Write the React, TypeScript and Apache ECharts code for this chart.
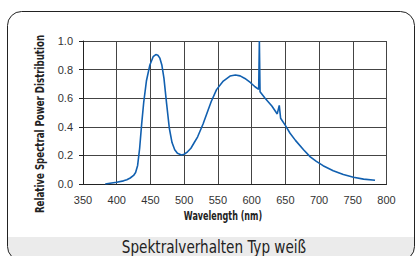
import React, { useEffect, useRef } from "react";
import * as echarts from "echarts";

const wavelengths = [383, 390, 400, 410, 415, 420, 425, 428, 431, 434, 437, 440, 444, 449, 454, 458, 461, 464, 467, 470, 474, 478, 482, 486, 490, 496, 500, 505, 510, 515, 520, 528, 535, 540, 548, 558, 568, 576, 583, 590, 598, 605, 610.5, 611.5, 612.5, 620, 630, 638, 641, 643, 650, 657, 665, 677, 687, 696, 706, 721, 736, 751, 766, 783];
const intensity = [0, 0.005, 0.012, 0.022, 0.03, 0.042, 0.06, 0.08, 0.13, 0.25, 0.42, 0.57, 0.72, 0.83, 0.89, 0.905, 0.9, 0.88, 0.83, 0.74, 0.56, 0.39, 0.29, 0.24, 0.215, 0.203, 0.208, 0.225, 0.25, 0.29, 0.33, 0.42, 0.51, 0.575, 0.66, 0.72, 0.755, 0.762, 0.756, 0.738, 0.71, 0.68, 0.662, 1.0, 0.645, 0.6, 0.545, 0.49, 0.55, 0.46, 0.41, 0.355, 0.305, 0.24, 0.19, 0.158, 0.128, 0.093, 0.066, 0.047, 0.034, 0.026];

const xTitle = "Wavelength (nm)";
const yTitle = "Relative Spectral Power Distribution";
const chartTitle = "Spektralverhalten Typ weiß";

const narrow = '"DejaVu Sans Condensed", sans-serif';

export default function App() {
  const ref = useRef<HTMLDivElement>(null);
  useEffect(() => {
    if (!ref.current) return;
    const chart = echarts.init(ref.current, null, { renderer: "svg" });
    const data = wavelengths.map((w, i) => [w, intensity[i]]);
    chart.setOption({
      animation: false,
      backgroundColor: "#ffffff",
      grid: { left: 83, top: 41, width: 303.5, height: 143, containLabel: false },
      xAxis: {
        type: "value",
        min: 350,
        max: 800,
        interval: 50,
        axisLine: { show: true, onZero: false, lineStyle: { color: "#222", width: 1 } },
        axisTick: { show: false },
        axisLabel: { color: "#333", fontSize: 11, fontFamily: '"Liberation Sans", Arial, sans-serif', margin: 10 },
        splitLine: { show: true, lineStyle: { color: "#444", width: 1 } },
      },
      yAxis: {
        type: "value",
        min: 0,
        max: 1,
        interval: 0.2,
        axisLine: { show: true, lineStyle: { color: "#222", width: 1 } },
        axisTick: { show: true, length: 4, lineStyle: { color: "#222" } },
        axisLabel: {
          color: "#333",
          fontSize: 11,
          fontFamily: '"Liberation Sans", Arial, sans-serif',
          margin: 10,
          formatter: (v: number) => v.toFixed(1),
        },
        splitLine: { show: true, lineStyle: { color: "#444", width: 1 } },
      },
      series: [
        {
          type: "line",
          data,
          showSymbol: false,
          smooth: false,
          lineStyle: { color: "#1160b0", width: 1.6 },
          z: 5,
        },
      ],
      graphic: [
        {
          type: "rect",
          shape: { x: 8, y: 237, width: 406.5, height: 24, r: [0, 0, 14, 14] },
          style: { fill: "#ebebeb" },
          silent: true,
          z: -1,
        },
        {
          type: "rect",
          shape: { x: 7.5, y: 11.5, width: 407, height: 249, r: 14 },
          style: { fill: "none", stroke: "#222", lineWidth: 1 },
          silent: true,
        },
        {
          type: "text",
          x: 223,
          y: 216,
          scaleX: 0.69,
          style: {
            text: xTitle,
            fontFamily: narrow,
            fontSize: 13,
            fontWeight: "bold",
            fill: "#222",
            align: "center",
            verticalAlign: "middle",
          },
        },
        {
          type: "text",
          x: 39,
          y: 124,
          rotation: Math.PI / 2,
          scaleX: 0.74,
          style: {
            text: yTitle,
            fontFamily: narrow,
            fontSize: 13,
            fontWeight: "bold",
            fill: "#222",
            align: "center",
            verticalAlign: "middle",
          },
        },
        {
          type: "text",
          x: 214,
          y: 247,
          scaleX: 0.84,
          style: {
            text: chartTitle,
            fontFamily: narrow,
            fontSize: 18,
            fill: "#222",
            align: "center",
            verticalAlign: "middle",
          },
        },
      ],
    });
    return () => chart.dispose();
  }, []);
  return (
    <div
      ref={ref}
      style={{ position: "fixed", left: 0, top: 0, width: 416, height: 256 }}
    />
  );
}
